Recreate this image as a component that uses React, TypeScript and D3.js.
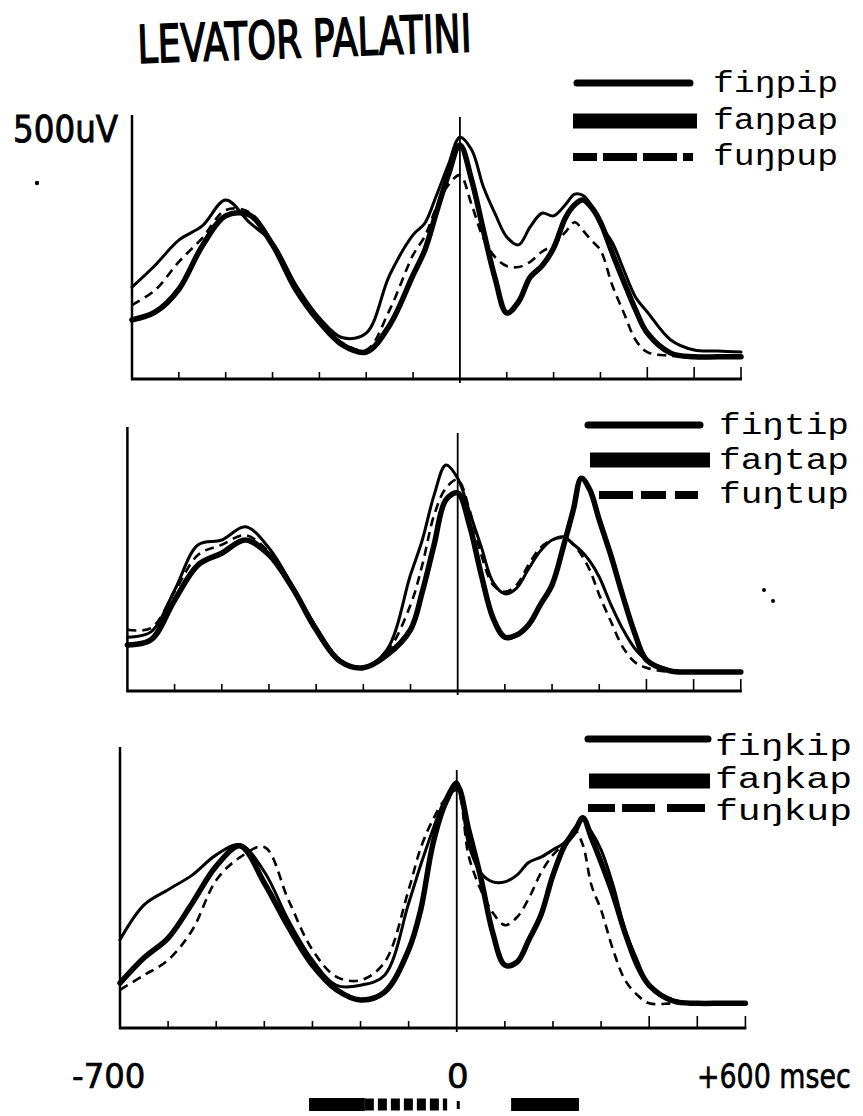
import React from "react";
import * as d3 from "d3";

// Time grid (msec) shared by all traces
const TIMES = [-700,-650,-600,-550,-500,-450,-400,-350,-300,-250,-200,-150,-100,-75,-50,-25,0,25,50,75,100,125,150,175,200,225,245,262,280,300,325,350,375,400,450,500,550,600];

// Panel 1 (labial) values in uV
const P1_FINGPIP = [174,216,263,290,339,297,258,178,116,78,87,197,273,295,348,405,458,434,364,313,269,254,288,314,309,330,350,348,330,292,259,206,155,127,74,55,53,51];
const P1_FANGPAP = [112,127,170,252,309,311,254,169,108,64,51,102,197,244,316,386,443,377,282,191,125,146,193,214,248,305,330,339,326,297,239,184,131,87,49,42,42,42];
const P1_FUNGPUP = [140,169,222,267,320,316,258,172,108,68,55,131,235,270,326,367,386,330,267,231,214,212,222,241,254,278,297,282,263,244,178,125,74,51,44,42,42,42];

// Panel 2 (alveolar)
const P2_FINGTIP = [102,112,191,277,286,311,271,199,121,59,45,78,220,286,371,428,403,339,273,206,184,195,231,265,286,292,278,265,246,216,163,117,81,59,40,36,36,36];
const P2_FANGTAP = [87,97,172,239,261,286,258,195,116,57,44,68,116,188,277,362,375,314,220,138,102,106,125,163,201,277,343,403,381,324,256,180,110,59,38,36,36,36];
const P2_FUNGTUP = [116,119,188,258,277,295,263,197,119,59,45,74,163,239,333,384,400,343,258,201,188,201,239,271,286,290,278,258,229,182,131,83,55,44,36,36,36,36];

// Panel 3 (velar)
const P3_FINGKIP = [157,219,246,272,308,326,278,192,121,76,76,94,222,290,352,406,438,326,276,260,260,272,295,304,317,331,356,370,349,317,254,174,121,76,50,44,44,44];
const P3_FANGKAP = [80,125,160,222,288,324,258,180,112,68,50,64,139,210,326,397,432,352,267,169,112,117,157,201,272,326,349,374,338,295,237,169,112,76,48,44,44,44];
const P3_FUNGKUP = [68,94,121,174,263,304,322,228,139,91,85,117,246,320,370,406,423,305,246,205,183,197,231,276,308,329,352,326,254,210,139,85,59,44,44,44,44,44];

const P1_LABELS = ["fiŋpip", "faŋpap", "fuŋpup"];
const P2_LABELS = ["fiŋtip", "faŋtap", "fuŋtup"];
const P3_LABELS = ["fiŋkip", "faŋkap", "fuŋkup"];

const TITLE = "LEVATOR PALATINI";
const SCALE_LABEL = "500uV";
const BOTTOM_LABELS = ["-700", "0", "+600 msec"];
const X_DOMAIN = [-700, 600];
const Y_DOMAIN = [0, 500];
const TICK_VALUES = [-600,-500,-400,-300,-200,-100,100,200,300,400,500,600];

// Segment bars under the time axis (msec)
const SOLID_BARS = [[-307, -191], [113, 254]];
const DOTTED_BARS = [[-191, -20]];

type Legend = {
  x1: number[]; x2: number[]; rows: number[]; textX: number; baselines: number[]; textLen: number;
  dash: string;
};

const PANELS = [
  {
    series: [P1_FINGPIP, P1_FANGPAP, P1_FUNGPUP], labels: P1_LABELS,
    xr: [132, 741], yr: [379, 115], zeroTop: 117,
    legend: { x1: [577, 573, 573], x2: [690, 697, 693], rows: [83, 121, 157], textX: 713, baselines: [92, 129, 165], textLen: 125, dash: "24 6 34 6 34 6 10 200" } as Legend,
  },
  {
    series: [P2_FINGTIP, P2_FANGTAP, P2_FUNGTUP], labels: P2_LABELS,
    xr: [127.4, 740.8], yr: [691, 427], zeroTop: 433,
    legend: { x1: [588, 590, 599], x2: [700, 710, 698], rows: [425, 460, 495], textX: 719, baselines: [434, 469, 503], textLen: 130, dash: "34 8 25 9 23 200" } as Legend,
  },
  {
    series: [P3_FINGKIP, P3_FANGKAP, P3_FUNGKUP], labels: P3_LABELS,
    xr: [120, 745.4], yr: [1028, 747], zeroTop: 770,
    legend: { x1: [588, 589, 588], x2: [708, 710, 705], rows: [739, 781, 808], textX: 715, baselines: [755, 788, 820], textLen: 137, dash: "27 7 33 12 38 200" } as Legend,
  },
];

const TRACE_STYLES = [
  { w: 3, dash: undefined as string | undefined },
  { w: 5.5, dash: undefined as string | undefined },
  { w: 2.6, dash: "9 6" },
];
const LEGEND_WIDTHS = [7, 15, 8];

export default function App() {
  const sans = "'DejaVu Sans', sans-serif";
  const mono = "'Liberation Mono', 'DejaVu Sans Mono', monospace";
  const p3 = PANELS[2];
  const x3 = d3.scaleLinear().domain(X_DOMAIN).range(p3.xr);
  return (
    <div>
      <style>{`body{margin:0;background:#fff}`}</style>
      <svg width={863} height={1116} style={{ display: "block", background: "#fff" }}>
        <rect x={0} y={0} width={863} height={1116} fill="#fff" />
        <g transform="translate(138,63) rotate(-2) scale(0.70,1)">
          <text x={0} y={0} fontFamily={sans} fontSize={52} stroke="#000" strokeWidth={1.6} fill="#000">{TITLE}</text>
        </g>
        <g transform="translate(13,142) scale(0.88,1)">
          <text x={0} y={0} fontFamily={sans} fontSize={37} stroke="#000" strokeWidth={0.9} fill="#000">{SCALE_LABEL}</text>
        </g>
        {PANELS.map((p, pi) => {
          const x = d3.scaleLinear().domain(X_DOMAIN).range(p.xr);
          const y = d3.scaleLinear().domain(Y_DOMAIN).range(p.yr);
          const line = d3.line<number>().x((_, i) => x(TIMES[i])).y(d => y(d)).curve(d3.curveCatmullRom.alpha(0.5));
          const lg = p.legend;
          return (
            <g key={pi}>
              {/* axes */}
              <line x1={p.xr[0]} x2={p.xr[0]} y1={p.yr[1]} y2={p.yr[0] + 1} stroke="#000" strokeWidth={2.5} />
              <line x1={p.xr[0] - 1} x2={p.xr[1] + 1} y1={p.yr[0]} y2={p.yr[0]} stroke="#000" strokeWidth={3} />
              <line x1={x(0)} x2={x(0)} y1={p.zeroTop} y2={p.yr[0] + 4} stroke="#000" strokeWidth={1.8} />
              {TICK_VALUES.map(t => (
                <line key={t} x1={x(t)} x2={x(t)} y1={p.yr[0]} y2={p.yr[0] - (t >= 400 ? 12 : 7)} stroke="#000" strokeWidth={1.6} />
              ))}
              {/* traces */}
              {p.series.map((s, si) => (
                <path key={si} d={line(s) || ""} fill="none" stroke="#000" strokeWidth={TRACE_STYLES[si].w}
                  strokeDasharray={TRACE_STYLES[si].dash} strokeLinejoin="round" strokeLinecap={si === 2 ? "butt" : "round"} />
              ))}
              {/* legend */}
              {p.labels.map((lab, li) => (
                <g key={lab}>
                  <line x1={lg.x1[li]} x2={lg.x2[li]} y1={lg.rows[li]} y2={lg.rows[li]} stroke="#000" strokeWidth={LEGEND_WIDTHS[li]}
                    strokeDasharray={li === 2 ? lg.dash : undefined} strokeLinecap={li === 0 ? "round" : "butt"} />
                  <text x={lg.textX} y={lg.baselines[li]} fontFamily={mono} fontSize={30} textLength={lg.textLen} lengthAdjust="spacingAndGlyphs" fill="#000">{lab}</text>
                </g>
              ))}
            </g>
          );
        })}
        {/* bottom labels */}
        <g transform="translate(72,1088) scale(0.95,1)">
          <text x={0} y={0} fontFamily={sans} fontSize={34} stroke="#000" strokeWidth={0.7} fill="#000">{BOTTOM_LABELS[0]}</text>
        </g>
        <text x={x3(0) + 1} y={1088} fontFamily={sans} fontSize={34} stroke="#000" strokeWidth={0.7} textAnchor="middle" fill="#000">{BOTTOM_LABELS[1]}</text>
        <g transform="translate(697,1088) scale(0.79,1)">
          <text x={0} y={0} fontFamily={sans} fontSize={34} stroke="#000" strokeWidth={0.7} fill="#000">{BOTTOM_LABELS[2]}</text>
        </g>
        {SOLID_BARS.map((b, i) => (
          <rect key={i} x={x3(b[0])} y={1098} width={x3(b[1]) - x3(b[0])} height={13} fill="#000" />
        ))}
        {DOTTED_BARS.map((b, i) => (
          <line key={i} x1={x3(b[0])} x2={x3(b[1])} y1={1104.5} y2={1104.5} stroke="#000" strokeWidth={12} strokeDasharray="9 4" />
        ))}
        <rect x={x3(0)} y={1101} width={3} height={8} fill="#000" />
        {/* scan specks */}
        <circle cx={37} cy={183} r={2.2} fill="#000" />
        <circle cx={764} cy={590} r={2} fill="#000" />
        <circle cx={773} cy={601} r={2} fill="#000" />
      </svg>
    </div>
  );
}
